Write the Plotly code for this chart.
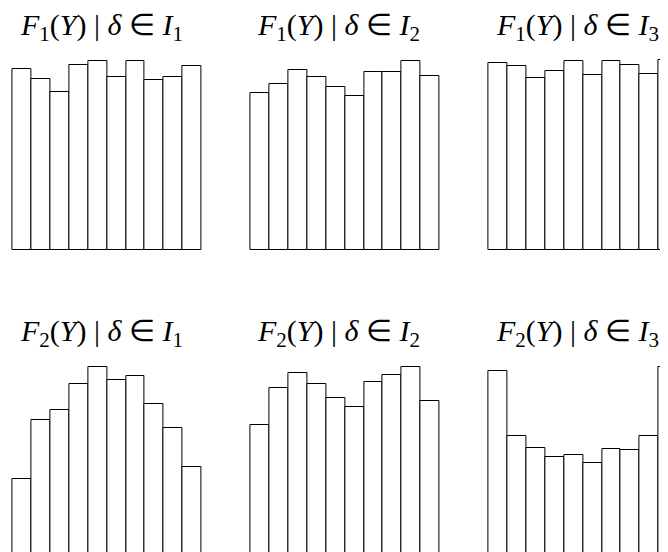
import plotly.graph_objects as go

# bin heights (same arbitrary unit in every panel)
bins = [0.5, 1.5, 2.5, 3.5, 4.5, 5.5, 6.5, 7.5, 8.5, 9.5]
f1_i1 = [181, 171, 158, 185, 189, 173, 189, 170, 173, 184]
f1_i2 = [157, 166, 180, 173, 163, 154, 178, 178, 189, 174]
f1_i3 = [187, 184, 172, 179, 189, 175, 189, 185, 176, 190]
f2_i1 = [77, 136, 146, 172, 189, 176, 180, 152, 128, 89]
f2_i2 = [131, 168, 183, 172, 158, 149, 174, 181, 189, 155]
f2_i3 = [185, 120, 108, 99, 101, 93, 107, 106, 120, 189]
titles = [
    ['<i>F</i><sub>1</sub>(<i>Y</i>) | <i>δ</i> ∈ <i>I</i><sub>1</sub>',
     '<i>F</i><sub>1</sub>(<i>Y</i>) | <i>δ</i> ∈ <i>I</i><sub>2</sub>',
     '<i>F</i><sub>1</sub>(<i>Y</i>) | <i>δ</i> ∈ <i>I</i><sub>3</sub>'],
    ['<i>F</i><sub>2</sub>(<i>Y</i>) | <i>δ</i> ∈ <i>I</i><sub>1</sub>',
     '<i>F</i><sub>2</sub>(<i>Y</i>) | <i>δ</i> ∈ <i>I</i><sub>2</sub>',
     '<i>F</i><sub>2</sub>(<i>Y</i>) | <i>δ</i> ∈ <i>I</i><sub>3</sub>'],
]
series = [[f1_i1, f1_i2, f1_i3], [f2_i1, f2_i2, f2_i3]]

OFF = 8                    # page body margin
W, H = 668 - OFF, 552 - OFF  # figure fills the rest of the window
bw = 18.94                 # px per bin
col_left = [12.3, 250.3, 488.3]   # screen px
row_base = [250, 556]             # screen px of baseline
ytop = 200

fig = go.Figure()
n = 0
for r in range(2):
    for c in range(3):
        n += 1
        xa = 'x' if n == 1 else f'x{n}'
        ya = 'y' if n == 1 else f'y{n}'
        fig.add_trace(go.Bar(
            x=bins, y=series[r][c], width=1, xaxis=xa, yaxis=ya,
            marker=dict(color='white', line=dict(color='black', width=1)),
            showlegend=False,
        ))
        x0px = col_left[c] - OFF - 0.1 * bw
        x1px = col_left[c] - OFF + 10.1 * bw
        xr = [-0.1, 10.1]
        if x1px > W:
            xr = [-0.1, -0.1 + (W - x0px) / bw]
            x1px = W
        base = row_base[r] - OFF
        ybot_px = min(base + 2, H)
        yr = [-(ybot_px - base), ytop]
        ytop_px = base - ytop
        fig.layout[xa.replace('x', 'xaxis')] = dict(
            domain=[x0px / W, x1px / W], range=xr, anchor=ya,
            visible=False, fixedrange=True)
        fig.layout[ya.replace('y', 'yaxis')] = dict(
            domain=[1 - ybot_px / H, 1 - ytop_px / H], range=yr, anchor=xa,
            visible=False, fixedrange=True)
        fig.add_annotation(
            text=titles[r][c], xref='paper', yref='paper',
            x=(col_left[c] - OFF + 5 * bw - 6) / W,
            y=1 - (base - 223) / H,
            xanchor='center', yanchor='middle', showarrow=False,
            font=dict(family='Liberation Serif', size=30, color='black'))

fig.update_layout(
    width=W, height=H, autosize=False,
    margin=dict(l=0, r=0, t=0, b=0),
    paper_bgcolor='white', plot_bgcolor='white',
    bargap=0,
)
fig.write_html('out.html')
